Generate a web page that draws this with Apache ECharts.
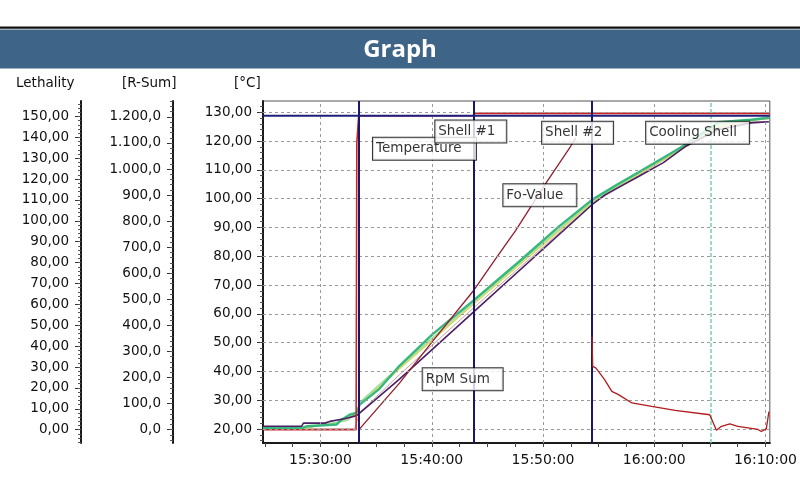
<!DOCTYPE html>
<html><head><meta charset="utf-8">
<script src="https://cdn.jsdelivr.net/npm/echarts@6/dist/echarts.min.js"></script>
<style>html,body{margin:0;padding:0;background:#fff;}#chart{width:800px;height:500px;}</style>
</head><body><div id="chart"></div>
<script>
// ---------- data ----------
const xStart = "15:24:50", xEnd = "16:10:23";
const xLabelTimes = ["15:30:00","15:40:00","15:50:00","16:00:00","16:10:00"];
const tempTicks = [20,30,40,50,60,70,80,90,100,110,120,130];
const lethalityTicks = [0,10,20,30,40,50,60,70,80,90,100,110,120,130,140,150];
const rsumTicks = [0,100,200,300,400,500,600,700,800,900,1000,1100,1200];

const phaseLineTimes = ["15:33:26","15:43:45","15:54:21"];
const coolingStartTime = "16:05:04";

const setpointTimes = ["15:24:50","16:10:23"];
const setpointValues = [128.75,128.75];

const temperatureTimes = ["15:24:50","15:33:12","15:33:16","15:33:26","15:43:44","15:43:48","16:10:23"];
const temperatureValues = [19.8,19.8,119.5,128.8,128.8,129.6,129.6];

const coolingTimes = ["15:54:24","15:54:28","15:54:44","15:55:00","15:55:32","15:56:11","15:56:47","15:57:59","15:59:46","16:01:52","16:04:59","16:05:35","16:06:02","16:06:47","16:07:31","16:09:19","16:09:37","16:10:04","16:10:18"];
const coolingValues = [52.2,41.8,41.3,40.0,37.2,33.1,32.0,29.1,27.9,26.5,25.0,19.6,21.0,21.8,21.0,19.9,19.2,20.1,26.1];

const shell1Times = ["15:24:50","15:28:18","15:28:45","15:31:26","15:31:53","15:32:37","15:33:13","15:33:22","15:33:31","15:35:18","15:37:06","15:40:05","15:43:49","15:47:50","15:51:25","15:54:24","15:56:47","15:58:35","16:00:49","16:02:47","16:05:44","16:08:41","16:10:18"];
const shell1Values = [20.4,20.4,21.0,21.6,23.3,25.0,25.6,26.8,28.5,34.0,42.0,53.0,64.9,78.1,90.3,99.6,105.2,109.2,114.2,118.7,126.5,127.4,128.1];

const shell2Times = ["15:24:50","15:29:02","15:29:56","15:31:22","15:32:10","15:33:15","15:33:31","15:37:06","15:43:49","15:54:24","15:58:35","16:02:47","16:05:44","16:08:41","16:10:18"];
const shell2Values = [20.5,20.5,21.6,22.1,23.3,25.4,28.5,41.0,63.6,98.6,108.5,117.9,125.0,127.1,127.8];

const coolShellTimes = ["15:24:50","15:28:52","15:30:50","15:32:26","15:33:20","15:33:31","15:37:06","15:43:49","15:54:24","15:58:35","16:02:47","16:05:44","16:08:41","16:10:18"];
const coolShellValues = [20.7,20.7,21.9,23.1,26.1,29.2,41.7,64.3,99.1,108.8,118.4,125.7,127.2,127.9];

const sensor4Times = ["15:24:50","15:33:04","15:33:31","15:37:06","15:43:49","15:54:24","15:58:35","16:02:47","16:05:44","16:08:41","16:10:18"];
const sensor4Values = [20.2,20.2,25.7,38.9,62.3,98.1,108.1,118.0,124.6,126.7,126.7];

const productTimes = ["15:24:50","15:28:18","15:28:28","15:30:23","15:30:50","15:32:10","15:33:15","15:37:06","15:43:49","15:54:24","15:55:36","15:58:35","16:00:49","16:02:47","16:05:44","16:08:41","16:10:18"];
const productValues = [21.0,21.0,22.1,22.1,22.7,23.6,24.7,37.4,60.9,97.9,101.4,107.7,112.5,118.1,123.9,126.3,126.7];

const foTimes = ["15:33:31","15:37:06","15:40:03","15:43:49","15:45:45","15:47:32","15:50:14","15:52:28","15:52:56"];
const foValues = [20.1,36.0,50.4,68.4,79.2,88.9,105.2,118.1,121.0];

const labelTexts = ["Temperature","Shell #1","Fo-Value","Shell #2","Cooling Shell","RpM Sum"];
const labelTimes = ["15:34:43","15:40:19","15:46:26","15:49:55","15:59:16","15:39:11"];
const labelValues = [117.3,123.3,101.2,122.9,122.9,37.3];

// ---------- styles ----------
const labelBoxWidths = [97,65,67,65,97,74];
const FONT = "DejaVu Sans";

// ---------- helpers ----------
const toMin = s => { const p = s.split(':').map(Number); return p[0]*60 + p[1] + p[2]/60; };
const pad2 = n => String(n).padStart(2,'0');
const toTime = v => { const t = Math.round(v*60); return pad2(Math.floor(t/3600))+':'+pad2(Math.floor(t/60)%60)+':'+pad2(t%60); };
const pairs = (times, vals) => times.map((t,i)=>[toMin(t), vals[i]]);
const fmt2 = v => v.toFixed(2).replace('.', ',');
const fmtR = v => { const s = v.toFixed(1); const [i,d] = s.split('.'); return i.replace(/\B(?=(\d{3})+(?!\d))/g,'.') + ',' + d; };
const range = (a,b,s) => { const r=[]; for (let v=a; v<=b+1e-9; v+=s) r.push(+v.toFixed(4)); return r; };

const xMin = toMin(xStart), xMax = toMin(xEnd);
const xMajor = xLabelTimes.map(toMin);
const xMinor = range(925, 970, 2.5);

function yAx(min, max, offset, major, minor, fmt, margin) {
  return [{
    type:'value', position:'left', offset, min, max,
    axisLine:{show:true, onZero:false, lineStyle:{color:'#1a1a1a', width:2}},
    axisTick:{show:true, length:6, customValues:major, lineStyle:{color:'#333'}},
    axisLabel:{customValues:major, formatter:fmt, fontFamily:FONT, fontSize:13.5, color:'#111', margin},
    splitLine:{show:false}
  },{
    type:'value', position:'left', offset, min, max,
    axisLine:{show:false}, axisLabel:{show:false}, splitLine:{show:false},
    axisTick:{show:true, length:3, customValues:minor, lineStyle:{color:'#555'}}
  }];
}

const yAxes = [
  ...yAx(15.2, 133.9, 0, tempTicks, range(16,132,2), fmt2, 11),
  ...yAx(-6.4, 157.4, 182, lethalityTicks, range(-6,156,2), fmt2, 12),
  ...yAx(-51, 1261, 90, rsumTicks, range(-40,1260,20), fmtR, 12)
];

function line(name, times, vals, color, width, z) {
  return { name, type:'line', data:pairs(times, vals), showSymbol:false, symbol:'none',
    lineStyle:{color, width}, itemStyle:{color}, z, silent:true, animation:false };
}

const gridLineStyle = {color:'#9a9a9a', width:1, type:[3,3]};
const gridSeries = {
  name:'grid', type:'line', data:pairs(setpointTimes, setpointValues), showSymbol:false,
  lineStyle:{opacity:0}, z:1, silent:true, animation:false,
  markLine:{ symbol:'none', silent:true, animation:false, label:{show:false},
    lineStyle:gridLineStyle,
    data:[...tempTicks.map(v=>({yAxis:v})), ...xMajor.map(v=>({xAxis:v}))] }
};

const setpoint = line('Setpoint', setpointTimes, setpointValues, '#1f1f7a', 2, 6);
setpoint.markLine = { symbol:'none', silent:true, animation:false, label:{show:false},
  data:[...phaseLineTimes.map(t=>({xAxis:toMin(t), lineStyle:{color:'#17176e', width:2, type:'solid'}})),
        {xAxis:toMin(coolingStartTime), lineStyle:{color:'#74d0b0', width:1.5, type:[4,2]}}] };

const labelSeries = {
  name:'labels', type:'scatter', symbolSize:0, z:20, silent:true, animation:false,
  data: labelTexts.map((t,i)=>({ value:[toMin(labelTimes[i]), labelValues[i]], name:t,
     label:{width:labelBoxWidths[i]} })),
  label:{ show:true, position:'right', distance:0, formatter:p=>p.name, align:'left',
    fontFamily:FONT, fontSize:13.5, color:'#000', lineHeight:15,
    backgroundColor:'#fff', borderColor:'#000', borderWidth:1, padding:[4,3,3,3] }
};

const series = [
  gridSeries,
  line('Sensor 4', sensor4Times, sensor4Values, '#c9a0a0', 1, 2),
  line('Shell 2', shell2Times, shell2Values, '#d8d65c', 1.5, 2),
  line('Cooling Shell', coolShellTimes, coolShellValues, '#9fdc9c', 1.5, 2),
  line('Shell 1', shell1Times, shell1Values, '#36b87c', 2.4, 3),
  line('Product', productTimes, productValues, '#4b1f66', 1.6, 3),
  line('Fo-Value', foTimes, foValues, '#951c2c', 1.3, 3),
  line('Temperature', temperatureTimes, temperatureValues, '#cc2222', 1.6, 4),
  setpoint,
  line('Cooling', coolingTimes, coolingValues, '#b01c1c', 1.3, 7),
  labelSeries
];

const chart = echarts.init(document.getElementById('chart'), null, {renderer:'canvas'});
chart.setOption({
  animation:false,
  backgroundColor:'#fff',
  title:{ text:'Graph', left:'center', top:33, textStyle:{color:'#fff', fontSize:24, fontWeight:'bold', fontFamily:'Open Sans'} },
  graphic:[
    {type:'rect', z:-1, shape:{x:0, y:26.5, width:800, height:2.2}, style:{fill:'#111'}},
    {type:'rect', z:-1, shape:{x:0, y:29.5, width:800, height:39}, style:{fill:'#3e6487'}},
    {type:'text', x:16, y:83, style:{text:'Lethality', font:'13.5px "DejaVu Sans"', fill:'#111', textVerticalAlign:'middle'}},
    {type:'text', x:122, y:83, style:{text:'[R-Sum]', font:'13.5px "DejaVu Sans"', fill:'#111', textVerticalAlign:'middle'}},
    {type:'text', x:234, y:83, style:{text:'[°C]', font:'13.5px "DejaVu Sans"', fill:'#111', textVerticalAlign:'middle'}}
  ],
  grid:{ left:263, right:28, top:101, bottom:57, show:true, borderColor:'#555', borderWidth:1, backgroundColor:'#fff' },
  xAxis:{ type:'value', min:xMin, max:xMax,
    axisLine:{show:true, onZero:false, lineStyle:{color:'#1a1a1a', width:2}},
    axisTick:{show:true, length:4, customValues:xMinor, lineStyle:{color:'#444'}},
    axisLabel:{customValues:xMajor, formatter:toTime, fontFamily:FONT, fontSize:14, color:'#111', margin:10},
    splitLine:{show:false} },
  yAxis: yAxes,
  series
});
</script></body></html>
